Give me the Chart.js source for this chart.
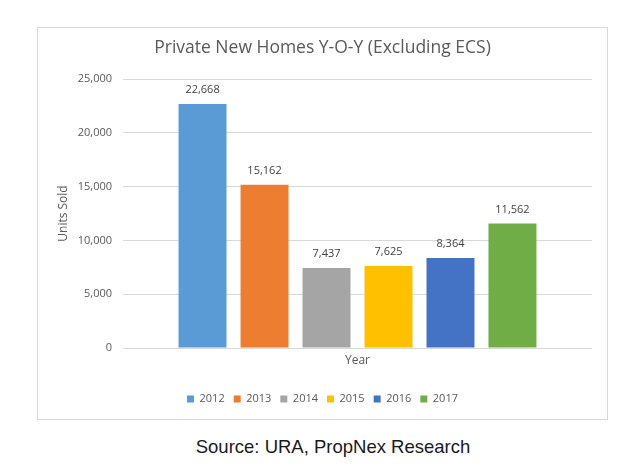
<!DOCTYPE html>
<html>
<head>
<meta charset="utf-8">
<script src="https://cdn.jsdelivr.net/npm/chart.js@4"></script>
<style>
  body { margin: 0; background: #fff; width: 638px; height: 468px; position: relative; overflow: hidden; }
  #chart-box { position: absolute; left: 37px; top: 27px; width: 569px; height: 391px; border: 1px solid #d9d9d9; }
  #source { position: absolute; left: 333px; top: 436px; transform: translateX(-50%); white-space: nowrap;
            font-family: "Liberation Sans", Arial, sans-serif; font-size: 18.5px; color: #1a1a1a; }
</style>
</head>
<body>
<div id="chart-box"><canvas id="chart" width="569" height="391"></canvas></div>
<div id="source">Source: URA, PropNex Research</div>
<script>
// data
const years = ['2012', '2013', '2014', '2015', '2016', '2017'];
const unitsSold = [22668, 15162, 7437, 7625, 8364, 11562];
const barColors = ['#5B9BD5', '#ED7D31', '#A5A5A5', '#FFC000', '#4472C4', '#70AD47'];
const yTicks = [0, 5000, 10000, 15000, 20000, 25000];

const font = '"Open Sans", sans-serif';
const grey = '#595959';

// one dataset per year, single category
const datasets = years.map((year, i) => ({
  label: year,
  data: [unitsSold[i]],
  backgroundColor: barColors[i],
  borderWidth: 0,
  categoryPercentage: 0.793,
  barPercentage: 0.774
}));

// value labels above bars
const valueLabels = {
  id: 'valueLabels',
  afterDatasetsDraw(chart) {
    const ctx = chart.ctx;
    ctx.save();
    ctx.font = '11px ' + font;
    ctx.fillStyle = '#404040';
    ctx.textAlign = 'center';
    ctx.textBaseline = 'middle';
    chart.data.datasets.forEach((ds, i) => {
      chart.getDatasetMeta(i).data.forEach((bar, j) => {
        ctx.fillText(ds.data[j].toLocaleString('en-US'), bar.x, bar.y - 14);
      });
    });
    ctx.restore();
  }
};

new Chart(document.getElementById('chart'), {
  type: 'bar',
  data: { labels: [''], datasets: datasets },
  options: {
    responsive: false,
    animation: false,
    layout: { padding: { left: 0, right: 0, top: 0, bottom: 4.5 } },
    scales: {
      x: {
        grid: { display: false, drawTicks: false },
        border: { display: false },
        ticks: { display: false },
        title: { display: true, text: 'Year', color: grey, font: { family: font, size: 12 }, padding: { top: 0, bottom: 16.3 } },
        afterFit: s => { s.height = 36.5; }
      },
      y: {
        min: 0,
        max: 25000,
        afterBuildTicks: s => { s.ticks = yTicks.map(v => ({ value: v })); },
        grid: { color: '#d9d9d9', drawTicks: false },
        border: { display: false },
        ticks: {
          padding: 11,
          color: grey,
          font: { family: font, size: 11 },
          callback: v => v.toLocaleString('en-US')
        },
        title: { display: true, text: 'Units Sold', color: grey, font: { family: font, size: 12 }, padding: { top: 18, bottom: 0 } },
        afterFit: s => { s.width = 85; }
      },
      // empty right spacer so the legend centres on the whole box
      spacer: {
        type: 'linear',
        position: 'right',
        grid: { display: false, drawTicks: false },
        border: { display: false },
        ticks: { display: false },
        afterFit: s => { s.width = 15; }
      }
    },
    plugins: {
      title: {
        display: true,
        text: 'Private New Homes Y-O-Y (Excluding ECS)',
        color: grey,
        font: { family: font, size: 17.5, weight: 'normal' },
        padding: { top: 10, bottom: 20 }
      },
      legend: {
        position: 'bottom',
        labels: {
          boxWidth: 7,
          boxHeight: 7,
          padding: 9,
          color: grey,
          font: { family: font, size: 11 }
        }
      },
      tooltip: { enabled: false }
    }
  },
  plugins: [valueLabels]
});
</script>
</body>
</html>
